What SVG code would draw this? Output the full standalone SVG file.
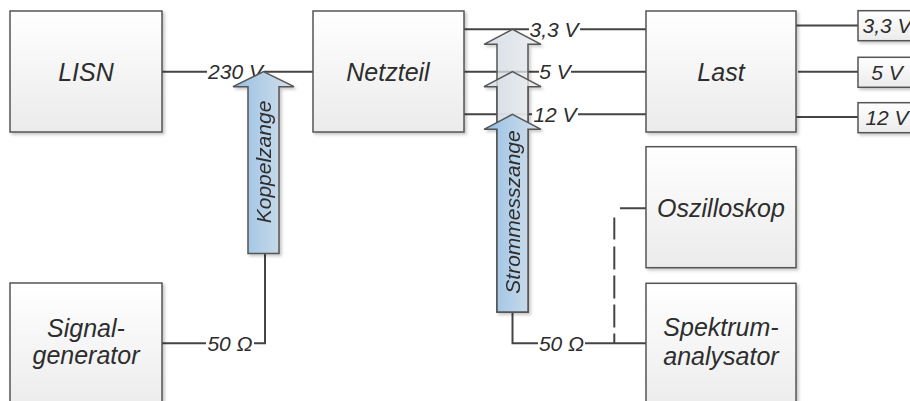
<svg xmlns="http://www.w3.org/2000/svg" width="910" height="401" viewBox="0 0 910 401">
<defs>
<linearGradient id="boxg" x1="0" y1="0" x2="0" y2="1">
<stop offset="0" stop-color="#ffffff"/>
<stop offset="1" stop-color="#ebebeb"/>
</linearGradient>
<linearGradient id="blueg" x1="0" y1="0" x2="1" y2="0">
<stop offset="0" stop-color="#96bfe4"/>
<stop offset="1" stop-color="#d6e1eb"/>
</linearGradient>
<linearGradient id="greyg" x1="0" y1="0" x2="1" y2="0">
<stop offset="0" stop-color="#d3dbe4"/>
<stop offset="1" stop-color="#eef0f3"/>
</linearGradient>
<filter id="sh" x="-10%" y="-10%" width="130%" height="130%">
<feDropShadow dx="2" dy="2" stdDeviation="1.5" flood-color="#000" flood-opacity="0.22"/>
</filter>
<style>
.box{fill:url(#boxg);stroke:#555;stroke-width:1.5;filter:url(#sh)}
.big{font-family:"Liberation Sans",Arial,sans-serif;font-style:italic;font-size:25px;fill:#2d2d2d;text-anchor:middle}
.lbl{font-family:"Liberation Sans",Arial,sans-serif;font-style:italic;font-size:21px;fill:#2d2d2d;text-anchor:middle}
.wire{fill:none;stroke:#444;stroke-width:2}
.arrB{fill:url(#blueg);stroke:#555;stroke-width:1.5}
.arrG{fill:url(#greyg);stroke:#555;stroke-width:1.5;fill-opacity:0.75}
</style>
</defs>
<rect width="910" height="401" fill="#fff"/>

<g id="connectors">
<path class="wire" d="M162,71.7H207M264,71.7H313"/>
<path class="wire" d="M464,29.3H529M580,29.3H646"/>
<path class="wire" d="M464,71.7H539M571,71.7H646"/>
<path class="wire" d="M464,114.3H532M578,114.3H646"/>
<path class="wire" d="M796,25.5H858"/>
<path class="wire" d="M798,71.7H858"/>
<path class="wire" d="M796,117H858"/>
<path class="wire" d="M162,343.3H206M254,343.3H265V253.5"/>
<path class="wire" d="M512.5,312V343.3H538M585,343.3H646"/>
<path class="wire" d="M646,208.3H614.3V343.3" stroke-dasharray="26 15 22 7 23 6 23 6 23 6"/>
<text class="lbl" x="235.5" y="79.2">230 V</text>
<text class="lbl" x="554" y="36.8">3,3 V</text>
<text class="lbl" x="555" y="79.2">5 V</text>
<text class="lbl" x="555" y="121.8">12 V</text>
<text class="lbl" x="230" y="350.8">50 Ω</text>
<text class="lbl" x="561.5" y="350.8">50 Ω</text>
</g>

<g id="lisn">
<rect class="box" x="10" y="11" width="152" height="121"/>
<text class="big" x="86" y="80.5">LISN</text>
</g>
<g id="netzteil">
<rect class="box" x="313" y="11" width="151" height="121"/>
<text class="big" x="388" y="80.5">Netzteil</text>
</g>
<g id="last">
<rect class="box" x="646" y="11" width="150" height="121"/>
<text class="big" x="721" y="80.5">Last</text>
</g>
<g id="out33">
<rect class="box" x="858" y="10.7" width="60" height="30"/>
<text class="lbl" x="887" y="33">3,3 V</text>
</g>
<g id="out5">
<rect class="box" x="858" y="57.3" width="60" height="30"/>
<text class="lbl" x="887" y="79.5">5 V</text>
</g>
<g id="out12">
<rect class="box" x="858" y="102.7" width="60" height="30"/>
<text class="lbl" x="887" y="124.5">12 V</text>
</g>
<g id="oszilloskop">
<rect class="box" x="646" y="146.7" width="150" height="121"/>
<text class="big" x="721" y="217">Oszilloskop</text>
</g>
<g id="signalgenerator">
<rect class="box" x="10" y="283" width="152" height="130"/>
<text class="big" x="86" y="337">Signal-</text>
<text class="big" x="86" y="364">generator</text>
</g>
<g id="spektrumanalysator">
<rect class="box" x="646" y="283.3" width="150" height="130"/>
<text class="big" x="721" y="336">Spektrum-</text>
<text class="big" x="721" y="364.5">analysator</text>
</g>

<g id="koppelzange" filter="url(#sh)">
<polygon class="arrB" points="263.5,71.7 294,86.7 279,86.7 279,253.5 248,253.5 248,86.7 233,86.7"/>
<text class="lbl" transform="translate(270.5,162) rotate(-90)">Koppelzange</text>
</g>
<g id="strommesszange" filter="url(#sh)">
<polygon class="arrG" points="512.5,29.3 541,44.3 528,44.3 528,312 497,312 497,44.3 484,44.3"/>
<polygon class="arrG" points="512.5,71.7 541,86.7 528,86.7 528,312 497,312 497,86.7 484,86.7"/>
<polygon class="arrB" points="512.5,114.3 541,129.3 528,129.3 528,312 497,312 497,129.3 484,129.3"/>
<text class="lbl" transform="translate(519.5,212) rotate(-90)">Strommesszange</text>
</g>
</svg>
